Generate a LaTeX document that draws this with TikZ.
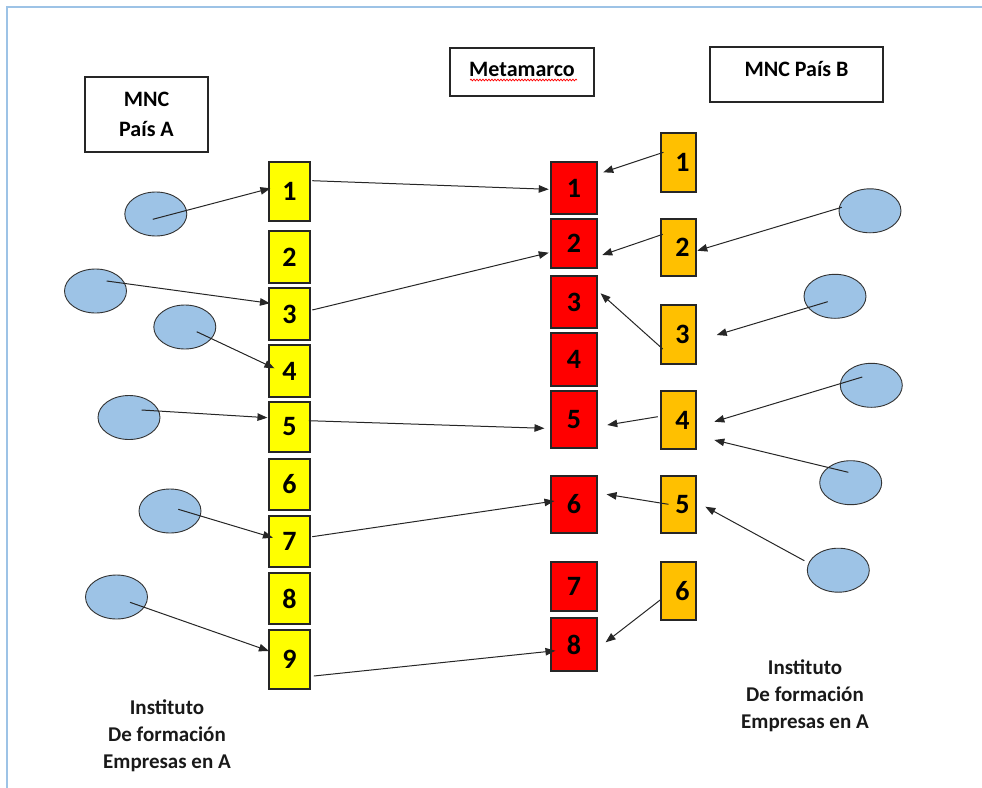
\documentclass[tikz,border=0pt]{standalone}
\usepackage{fontspec}
\setmainfont{Carlito}
\usetikzlibrary{arrows.meta,decorations.pathmorphing,calc,shapes.geometric}
\definecolor{frameblue}{HTML}{9DC3E6}
\definecolor{ellblue}{HTML}{9DC3E6}
\definecolor{boxyellow}{HTML}{FFFF00}
\definecolor{boxred}{HTML}{FF0000}
\definecolor{boxorange}{HTML}{FFC000}
\tikzset{
  numbox/.style={draw=black!85, line width=1.1pt, inner sep=0pt, font=\fontsize{28}{30}\selectfont\bfseries},
  ybox/.style={numbox, fill=boxyellow, minimum width=41pt},
  rbox/.style={numbox, fill=boxred, minimum width=46pt},
  obox/.style={numbox, fill=boxorange, minimum width=35pt},
  blob/.style={draw=black!80, line width=0.9pt, fill=ellblue, ellipse, minimum width=62pt, minimum height=44pt, inner sep=0pt},
  titlebox/.style={draw=black!85, line width=1.1pt, fill=white, align=center, inner sep=0pt, font=\fontsize{22}{30.5}\selectfont\bfseries},
  lbl/.style={align=center, inner sep=0pt, font=\fontsize{21}{27}\selectfont\bfseries, text=black!90},
  arr/.style={draw=black!85, line width=1pt, -{Triangle[length=10pt,width=7.5pt]}},
}
\begin{document}
\begin{tikzpicture}[x=1pt,y=-1pt]
\useasboundingbox (0,0) rectangle (982,787);
% frame
\draw[frameblue, line width=2pt] (6.5,800) -- (6.5,6.5) -- (990,6.5);

% title boxes
\node[titlebox, minimum width=123pt, minimum height=75pt] (tA) at (146.5,114.5) {MNC\\País A};
\node[titlebox, minimum width=144pt, minimum height=48pt, text height=18pt, text depth=9pt] (tM) at (522,72) {Metamarco};
\node[titlebox, minimum width=173pt, minimum height=55pt, text height=16pt, text depth=12pt] (tB) at (796.5,74.5) {MNC País B};
\coordinate (wA) at (470,80);
\coordinate (wB) at (577,80);
\draw[red, line width=0.7pt, decorate, decoration={snake, amplitude=0.9pt, segment length=3pt}] (wA) -- (wB);

% yellow boxes
\node[ybox, minimum height=59pt] (y1) at (289.5,191.5) {1};
\node[ybox, minimum height=52pt] (y2) at (289.5,257) {2};
\node[ybox, minimum height=52pt] (y3) at (289.5,314) {3};
\node[ybox, minimum height=52pt] (y4) at (289.5,371) {4};
\node[ybox, minimum height=50pt] (y5) at (289.5,427) {5};
\node[ybox, minimum height=51pt] (y6) at (289.5,484.5) {6};
\node[ybox, minimum height=51pt] (y7) at (289.5,541.5) {7};
\node[ybox, minimum height=51pt] (y8) at (289.5,598.5) {8};
\node[ybox, minimum height=59pt] (y9) at (289.5,659.5) {9};

% red boxes
\node[rbox, minimum height=52pt] (r1) at (574,188) {1};
\node[rbox, minimum height=49pt] (r2) at (574,243.5) {2};
\node[rbox, minimum height=52pt] (r3) at (574,302) {3};
\node[rbox, minimum height=53pt] (r4) at (574,359.5) {4};
\node[rbox, minimum height=57pt] (r5) at (574,419.5) {5};
\node[rbox, minimum height=57pt] (r6) at (574,504.5) {6};
\node[rbox, minimum height=49pt] (r7) at (574,586.5) {7};
\node[rbox, minimum height=53pt] (r8) at (574,644.5) {8};

% orange boxes
\node[obox, minimum height=59pt] (o1) at (678.5,162.5) {\hspace{8pt}1};
\node[obox, minimum height=57pt] (o2) at (678.5,247.5) {\hspace{8pt}2};
\node[obox, minimum height=59pt] (o3) at (678.5,334.5) {\hspace{8pt}3};
\node[obox, minimum height=58pt] (o4) at (678.5,420) {\hspace{8pt}4};
\node[obox, minimum height=57pt] (o5) at (678.5,504.5) {\hspace{8pt}5};
\node[obox, minimum height=58pt] (o6) at (678.5,591) {\hspace{8pt}6};

% left ellipses
\node[blob] (e1) at (155.8,214) {};
\node[blob] (e3) at (95.5,291) {};
\node[blob] (e4) at (184.8,327) {};
\node[blob] (e5) at (129,417.5) {};
\node[blob] (e7) at (170,511) {};
\node[blob] (e9) at (116.5,597) {};

% right ellipses
\node[blob] (f1) at (870,210.8) {};
\node[blob] (f2) at (835,296.3) {};
\node[blob] (f3) at (871.3,385.3) {};
\node[blob] (f4) at (850.7,482.7) {};
\node[blob] (f5) at (838.3,570.2) {};

% labels
\node[lbl] (la) at (167,736) {Instituto\\De formación\\Empresas en A};
\node[lbl] (lb) at (805,696) {Instituto\\De formación\\Empresas en A};

% free arrow ends near orange boxes
\coordinate (p3) at (716.7,335);
\coordinate (p4a) at (714.3,421.7);
\coordinate (p4b) at (714.3,440);
\coordinate (p5) at (705.3,506.7);

% left ellipses -> yellow
\draw[arr] ($(e1.center)+(-3,5.3)$) -- ($(y1.west)+(2,-3.2)$);
\draw[arr] ($(e3.center)+(11.2,-10)$) -- ($(y3.west)+(1.5,-10.7)$);
\draw[arr] ($(e4.center)+(11.9,4.7)$) -- ($(y4.west)+(6,-2.7)$);
\draw[arr] ($(e5.center)+(12.7,-7.5)$) -- ($(y5.west)+(-1,-9.3)$);
\draw[arr] ($(e7.center)+(8.3,-1.7)$) -- ($(y7.west)+(4.5,-3.8)$);
\draw[arr] ($(e9.center)+(13.5,5.3)$) -- ($(y9.west)+(0.5,-8.5)$);

% yellow -> red
\draw[arr] ($(y1.east)+(1.7,-10.8)$) -- ($(r1.west)+(-1.7,1.3)$);
\draw[arr] ($(y3.east)+(1.7,-4)$) -- ($(r2.west)+(-1.7,9.2)$);
\draw[arr] ($(y5.east)+(-1.7,-6.3)$) -- ($(r5.west)+(-6,8.8)$);
\draw[arr] ($(y7.east)+(1.7,-4.8)$) -- ($(r6.west)+(4,-3.5)$);
\draw[arr] ($(y9.east)+(3.3,16.5)$) -- ($(r8.west)+(5,6.2)$);

% orange -> red
\draw[arr] ($(o1.west)+(3,-10.2)$) -- ($(r1.east)+(5.7,-15.7)$);
\draw[arr] ($(o2.west)+(2.3,-13.2)$) -- ($(r2.east)+(4.7,11.5)$);
\draw[arr] ($(o3.west)+(2.3,14.5)$) -- ($(r3.east)+(3,-8.7)$);
\draw[arr] ($(o4.west)+(-2.7,-3.3)$) -- ($(r5.east)+(9.7,5.5)$);
\draw[arr] ($(o5.west)+(8,-0.2)$) -- ($(r6.east)+(9,-10.2)$);
\draw[arr] ($(o6.west)+(-0.3,9)$) -- ($(r8.east)+(8,-2.2)$);

% right ellipses -> orange
\draw[arr] ($(f1.center)+(-28.3,-3.5)$) -- ($(o2.east)+(0.7,3.2)$);
\draw[arr] ($(f2.center)+(-7.3,5.4)$) -- (p3);
\draw[arr] ($(f3.center)+(-9,-8.3)$) -- (p4a);
\draw[arr] ($(f4.center)+(-2.4,-10.4)$) -- (p4b);
\draw[arr] ($(f5.center)+(-34,-9.5)$) -- (p5);
\end{tikzpicture}
\end{document}
